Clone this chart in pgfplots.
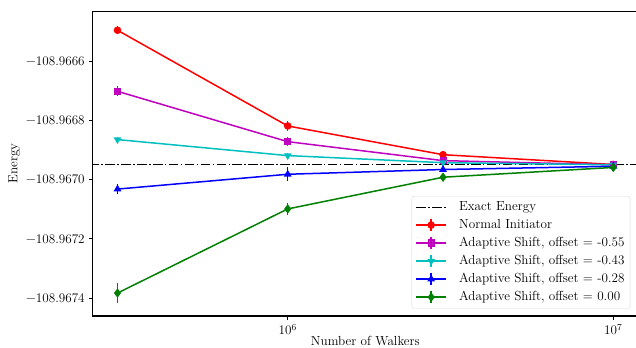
\documentclass[border=0pt]{standalone}
\usepackage{fontspec}
\usepackage{pgfplots}
\pgfplotsset{compat=1.18}
\definecolor{mplred}{rgb}{1,0,0}
\definecolor{mplmag}{rgb}{0.75,0,0.75}
\definecolor{mplcyan}{rgb}{0,0.75,0.75}
\definecolor{mplblue}{rgb}{0,0,1}
\definecolor{mplgreen}{rgb}{0,0.5,0}
\pgfplotsset{
  errlegend/.style={legend image code/.code={
    \draw[##1, mark=none] (0bp,0bp) -- (30bp,0bp);
    \draw[##1, mark=none, line width=1.5bp] (15bp,-6bp) -- (15bp,6bp);
    \draw[mark repeat=2,mark phase=2,##1,draw=none] plot coordinates {(0bp,0bp) (15bp,0bp) (30bp,0bp)};
  }},
  linelegend/.style={legend image code/.code={
    \draw[##1] (0bp,0bp) -- (30bp,0bp);
  }},
}
\begin{document}
\fontsize{13.2}{15.8}\selectfont
\begin{tikzpicture}
\begin{axis}[
  scale only axis,
  at={(0,0)}, anchor=south west,
  width=545.3bp, height=304.7bp,
  xmode=log,
  xmin=251768, xmax=11912000,
  ymin=-4.604, ymax=5.68,
  axis line style={line width=1.5bp},
  xtick={1e6,1e7},
  xticklabels={10\textsuperscript{6},10\textsuperscript{7}},
  xminorticks=false,
  ytick={-4,-2,0,2,4},
  yticklabels={−108.9674,−108.9672,−108.9670,−108.9668,−108.9666},
  tick align=outside,
  tick pos=left,
  major tick length=3.5bp,
  tick style={black, line width=0.8bp},
  xlabel={Number of Walkers},
  ylabel={Energy},
  xlabel style={yshift=8pt},
  ylabel style={yshift=-3pt},
  legend cell align=left,
  legend style={at={(0.986,0.024)}, anchor=south east, draw=black!15, rounded corners=2pt, fill=white, fill opacity=0.8, text opacity=1, row sep=2.3pt, inner sep=3.5pt, nodes={inner sep=2.2pt}, /tikz/every odd column/.append style={column sep=10bp}},
  errlegend,
  every axis plot/.append style={line width=1.5bp, mark size=3bp},
  error bars/error bar style={line width=1.5bp},
  error bars/error mark=none,
]
\addplot[black, dash pattern=on 9.6bp off 2.4bp on 1.5bp off 2.4bp, line width=1.6bp, linelegend]
  coordinates {(100000,0.516) (20000000,0.516)};
\addlegendentry{Exact Energy}
\addplot[mplred, mark=*, mark options={solid}, error bars/.cd, y dir=both, y explicit]
  coordinates {(3e5,5.04) +- (0,0.14) (1e6,1.81) +- (0,0.17) (3e6,0.84) +- (0,0.09) (1e7,0.51) +- (0,0.07)};
\addlegendentry{Normal Initiator}
\addplot[mplmag, mark=square*, mark size=2.8bp, error bars/.cd, y dir=both, y explicit]
  coordinates {(3e5,2.98) +- (0,0.17) (1e6,1.28) +- (0,0.15) (3e6,0.64) +- (0,0.08) (1e7,0.50) +- (0,0.06)};
\addlegendentry{Adaptive Shift, offset = -0.55}
\addplot[mplcyan, mark=triangle*, mark options={rotate=180}, error bars/.cd, y dir=both, y explicit]
  coordinates {(3e5,1.35) +- (0,0.10) (1e6,0.81) +- (0,0.10) (3e6,0.57) +- (0,0.07) (1e7,0.50) +- (0,0.05)};
\addlegendentry{Adaptive Shift, offset = -0.43}
\addplot[mplblue, mark=triangle*, error bars/.cd, y dir=both, y explicit]
  coordinates {(3e5,-0.32) +- (0,0.17) (1e6,0.18) +- (0,0.24) (3e6,0.34) +- (0,0.10) (1e7,0.45) +- (0,0.07)};
\addlegendentry{Adaptive Shift, offset = -0.28}
\addplot[mplgreen, mark=diamond*, mark size=3.5bp, error bars/.cd, y dir=both, y explicit]
  coordinates {(3e5,-3.83) +- (0,0.34) (1e6,-0.99) +- (0,0.20) (3e6,0.08) +- (0,0.10) (1e7,0.41) +- (0,0.08)};
\addlegendentry{Adaptive Shift, offset = 0.00}
\end{axis}
\pgfresetboundingbox
\useasboundingbox (-92.7bp,-31.3bp) rectangle (543.3bp,316bp);
\end{tikzpicture}
\end{document}
